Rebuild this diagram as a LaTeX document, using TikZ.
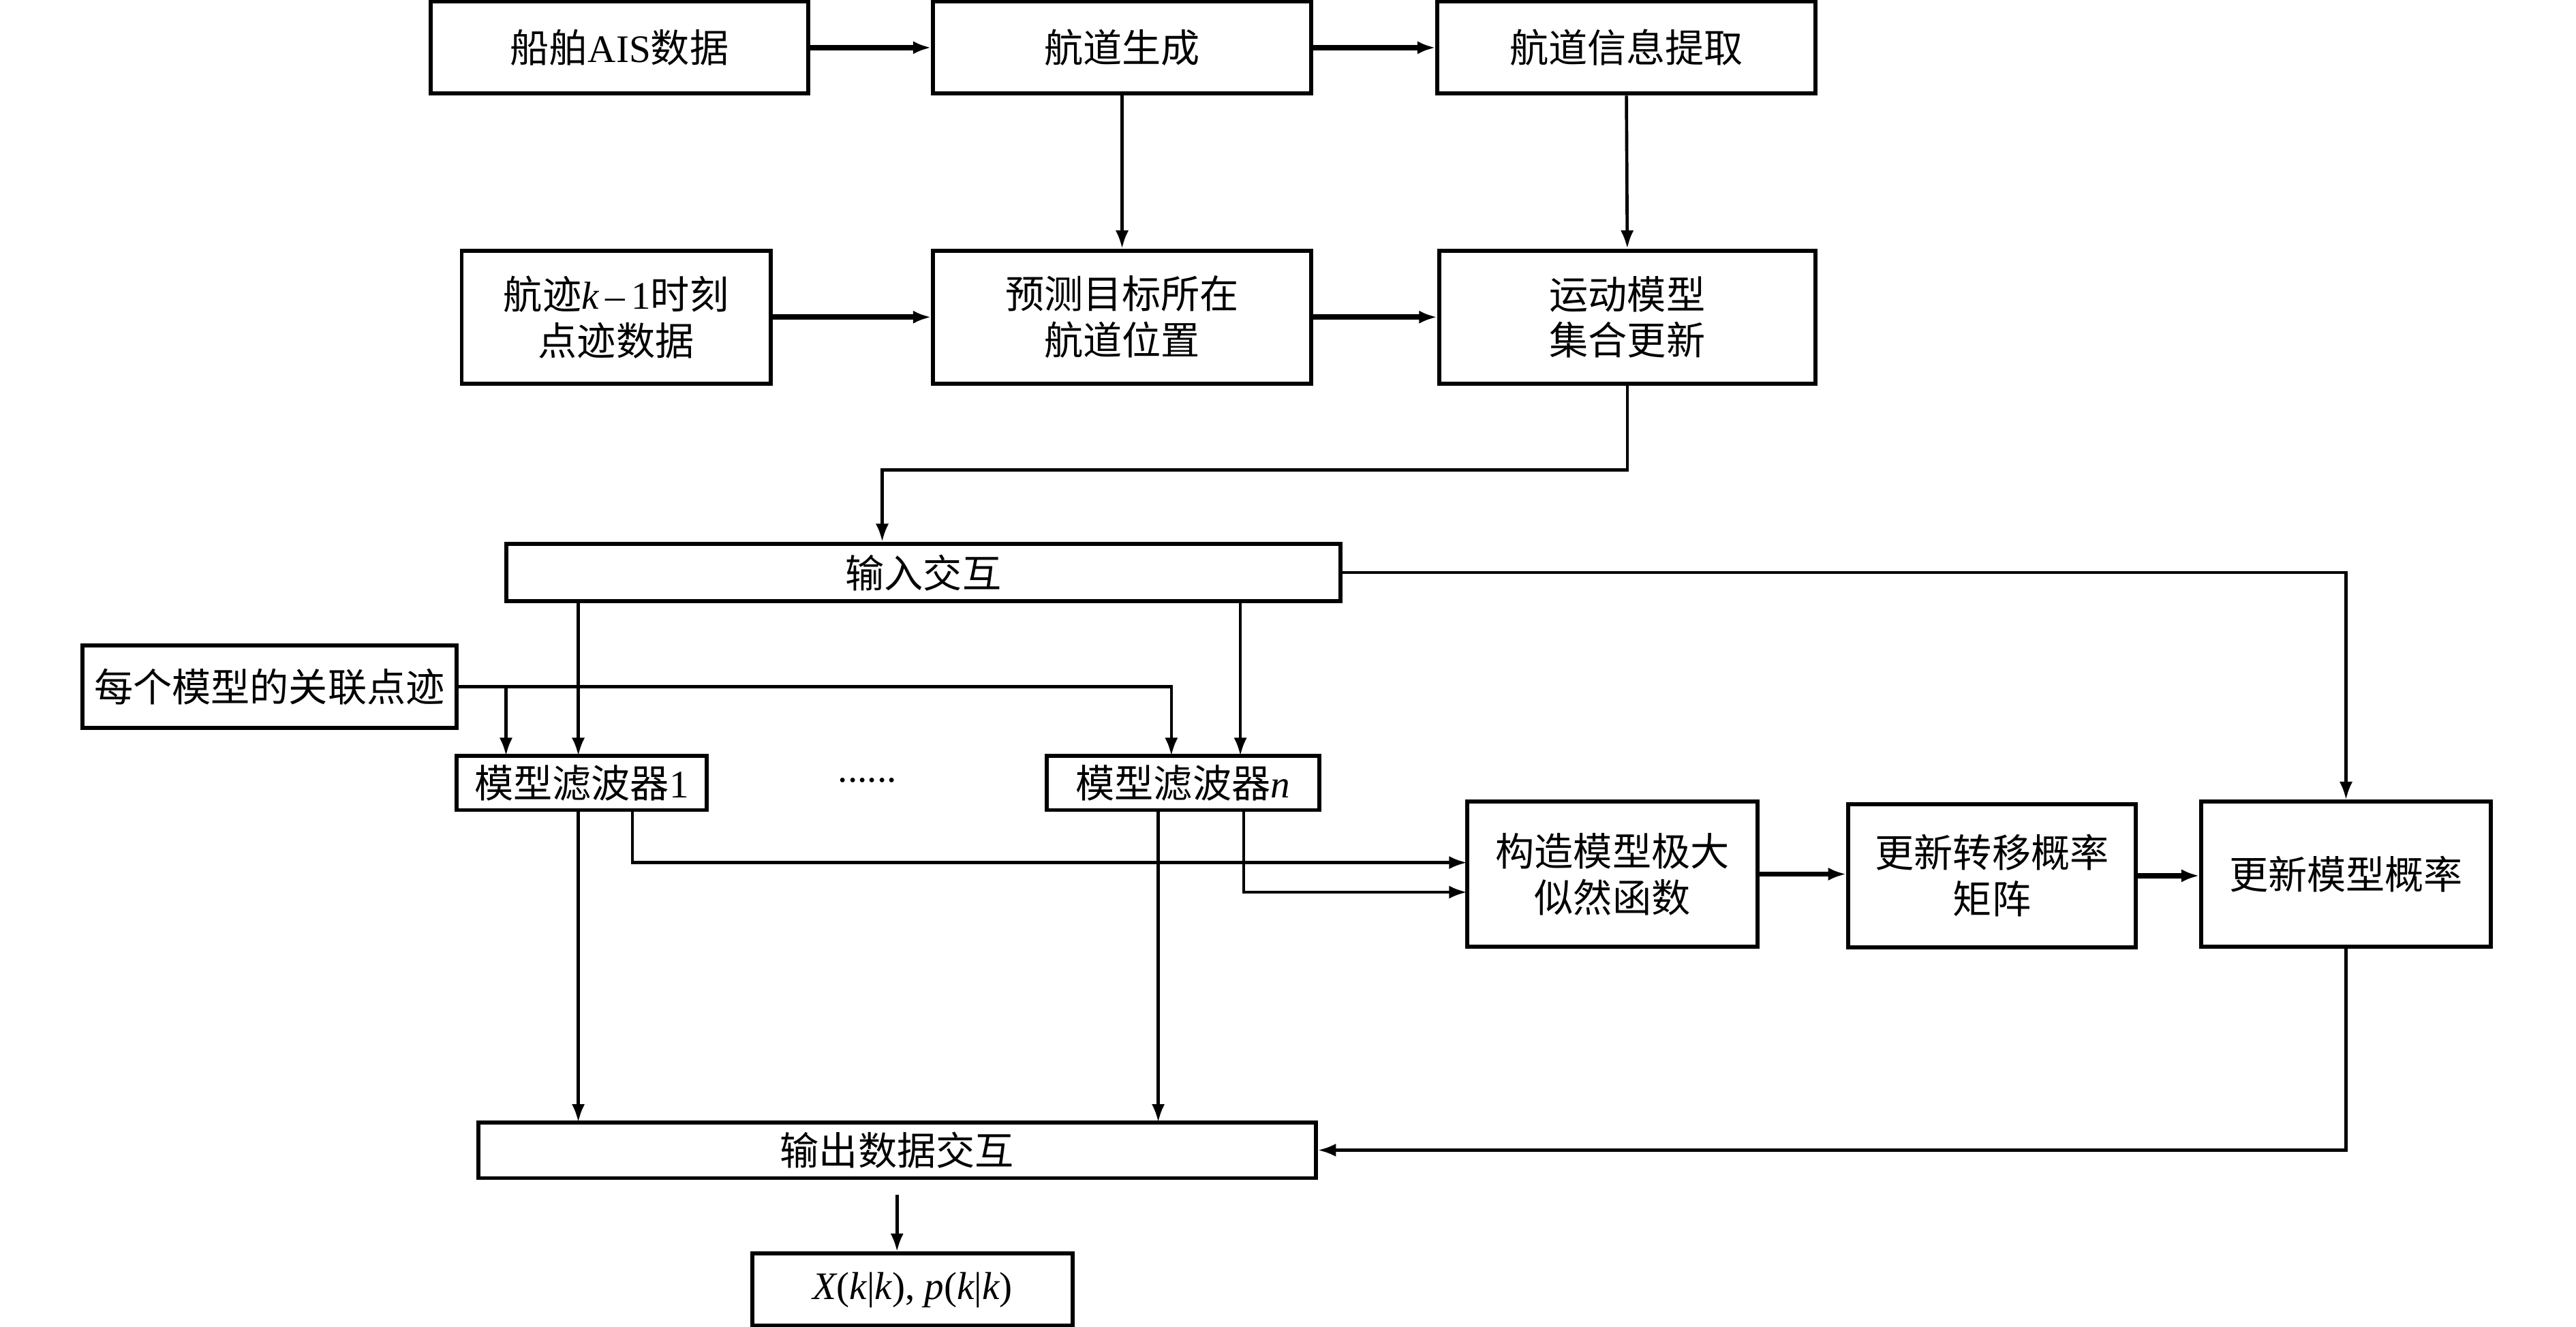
\documentclass[tikz,border=0pt]{standalone}
\usepackage{fontspec}
\setmainfont{Liberation Serif}
\newfontfamily\cjk{Noto Sans CJK SC}
\usetikzlibrary{arrows.meta}
\tikzset{
  box/.style={draw, line width=1.4pt, fill=white, inner sep=0pt, align=center,
    font={\fontsize{13.5}{16}\cjk}},
  conn/.style={line width=1.1pt, -{Latex[length=2.2mm,width=1.6mm]}},
  thickconn/.style={conn, line width=1.8pt},
}
\newcommand{\lt}[1]{{\rmfamily #1}}
\newcommand{\li}[1]{{\rmfamily\itshape #1}}
\begin{document}
\begin{tikzpicture}[x=0.02cm, y=-0.02cm]
  \useasboundingbox (0,0) rectangle (1568,807.6);

  % top rows
  \node[box, minimum width=4.6cm, minimum height=1.12cm] (ais) at (377,29) {船舶\lt{AIS}数据};
  \node[box, minimum width=4.6cm, minimum height=1.12cm] (gen) at (683,29) {航道生成};
  \node[box, minimum width=4.6cm, minimum height=1.12cm] (info) at (990,29) {航道信息提取};
  \node[box, minimum width=3.76cm, minimum height=1.62cm] (trk) at (375,193) {航迹\li{k}\lt{\,--\,1}时刻\\点迹数据};
  \node[box, minimum width=4.6cm, minimum height=1.62cm] (pred) at (683,193) {预测目标所在\\航道位置};
  \node[box, minimum width=4.58cm, minimum height=1.62cm] (motion) at (990.5,193) {运动模型\\集合更新};

  % interaction and filters
  \node[box, minimum width=10.16cm, minimum height=0.7cm] (inint) at (562,348.5) {输入交互};
  \node[box, minimum width=4.56cm, minimum height=1.0cm] (assoc) at (164,418) {每个模型的关联点迹};
  \node[box, minimum width=3.04cm, minimum height=0.66cm] (f1) at (354,476.5) {模型滤波器\lt{1}};
  \node[font=\fontsize{13.5}{16}\selectfont] (dots) at (528,475) {......};
  \node[box, minimum width=3.32cm, minimum height=0.66cm] (fn) at (720,476.5) {模型滤波器\li{n}};

  \node[box, minimum width=3.54cm, minimum height=1.76cm] (lik) at (981.5,532) {构造模型极大\\似然函数};
  \node[box, minimum width=3.5cm, minimum height=1.74cm] (tpm) at (1212.5,533) {更新转移概率\\矩阵};
  \node[box, minimum width=3.52cm, minimum height=1.76cm] (mp) at (1428,532) {更新模型概率};

  \node[box, minimum width=10.2cm, minimum height=0.68cm] (outint) at (546,700) {输出数据交互};
  \node[box, minimum width=3.9cm, minimum height=0.88cm] (res) at (555.5,785)
    {\li{X}\lt{(}\li{k}\lt{|}\li{k}\lt{), }\li{p}\lt{(}\li{k}\lt{|}\li{k}\lt{)}};

  % tap points
  \coordinate (c1) at (537,286);
  \coordinate (f1A) at (308,460);
  \coordinate (f1B) at (352,460);
  \coordinate (fnA) at (713,460);
  \coordinate (fnB) at (755,460);
  \coordinate (o1) at (352,683);
  \coordinate (o2) at (705,683);
  \coordinate (t1) at (385,0);
  \coordinate (t2) at (757,0);
  \coordinate (l1) at (893,525);
  \coordinate (l2) at (893,543);

  \draw[thickconn] (ais.east) -- (gen.west);
  \draw[thickconn] (gen.east) -- (info.west);
  \draw[conn] (gen.south) -- (pred.north);
  \draw[conn] (info.south) -- (motion.north);
  \draw[thickconn] (trk.east) -- (trk.east -| pred.west);
  \draw[thickconn] (pred.east) -- (motion.west);
  \draw[conn] (motion.south) |- (c1) -- (c1 |- inint.north);

  \draw[conn] (inint.east) -| (mp.north);
  \draw[conn] (f1B |- inint.south) -- (f1B);
  \draw[conn] (fnB |- inint.south) -- (fnB);
  \draw[conn] (assoc.east) -| (fnA);
  \draw[conn] (f1A |- assoc.east) -- (f1A);

  \draw[conn] (o1 |- f1.south) -- (o1);
  \draw[conn] (o2 |- fn.south) -- (o2);
  \draw[conn] (t1 |- f1.south) |- (l1);
  \draw[conn] (t2 |- fn.south) |- (l2);

  \draw[thickconn] (lik.east) -- (lik.east -| tpm.west);
  \draw[thickconn] (tpm.east) -- (tpm.east -| mp.west);
  \draw[conn] (mp.south) |- (outint.east);
  \draw[conn, shorten <=5] (outint.south) -- (outint.south |- res.north);
\end{tikzpicture}
\end{document}
